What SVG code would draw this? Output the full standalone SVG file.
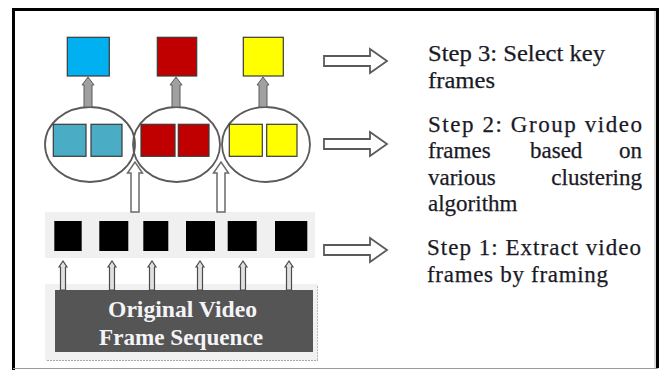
<svg xmlns="http://www.w3.org/2000/svg" width="662" height="370" viewBox="0 0 662 370">
<style>
.sq{stroke:#3a3a3a;stroke-width:1.2}
.cl{fill:none;stroke:#5a5a5a;stroke-width:1.8}
.blk{fill:#000}
.hol{fill:#fff;stroke:#5a5a5a;stroke-width:1.8;stroke-linejoin:miter}
.up{fill:#fff;stroke:#6a6a6a;stroke-width:1.5}
.gup{fill:#a0a0a0;stroke:#5a5a5a;stroke-width:1}
.sup{fill:#e0e0e0;stroke:#4a4a4a;stroke-width:1.2}
text{font-family:'Liberation Serif','Times New Roman',serif}
.st{font-size:23px;fill:#1a1a26;stroke:#1a1a26;stroke-width:0.25}
.ov{font-size:23px;font-weight:bold;fill:#f4f4f8}
</style>
<rect x="0" y="0" width="662" height="370" fill="#fff"/>
<g id="frame">
<path d="M13.5,370 V9.5 H657.5 V368" fill="none" stroke="#000" stroke-width="3"/>
<line x1="655" y1="11" x2="655" y2="368" stroke="#999" stroke-width="0.8"/>
<line x1="13" y1="368.5" x2="658" y2="368.5" stroke="#9a9a9a" stroke-width="1"/>
</g>
<g id="key-frames">
<rect class="sq" x="67.3" y="37.3" width="42" height="38.7" fill="#00b0f0"/>
<rect class="sq" x="157.3" y="37.3" width="39.4" height="38.7" fill="#c00000"/>
<rect class="sq" x="243.3" y="37.3" width="40" height="38.7" fill="#ffff00"/>
</g>
<g id="cluster-1">
<ellipse class="cl" cx="90" cy="144.5" rx="45" ry="37.5"/>
<rect class="sq" x="53.3" y="124.3" width="32.7" height="32" fill="#4bacc6"/>
<rect class="sq" x="91" y="124.3" width="31" height="32" fill="#4bacc6"/>
</g>
<g id="cluster-2">
<ellipse class="cl" cx="176.5" cy="144.5" rx="43.5" ry="37.5"/>
<rect class="sq" x="141" y="124.3" width="34" height="32" fill="#c00000"/>
<rect class="sq" x="178.3" y="124.3" width="30.7" height="32" fill="#c00000"/>
</g>
<g id="cluster-3">
<ellipse class="cl" cx="266" cy="144.5" rx="44" ry="37.5"/>
<rect class="sq" x="229.3" y="124.3" width="33" height="32" fill="#ffff00"/>
<rect class="sq" x="266.7" y="124.3" width="30.3" height="32" fill="#ffff00"/>
</g>
<g id="video-frames">
<rect x="45" y="212" width="270" height="46" fill="#f0f0f0"/>
<rect class="blk" x="54.3" y="221" width="27.4" height="30"/>
<rect class="blk" x="99.3" y="221" width="29" height="30"/>
<rect class="blk" x="143.3" y="221" width="25" height="30"/>
<rect class="blk" x="186" y="221" width="29" height="30"/>
<rect class="blk" x="227.7" y="221" width="29" height="30"/>
<rect class="blk" x="275" y="221" width="32.3" height="30"/>
</g>
<g id="original-sequence">
<rect x="45" y="284" width="273" height="77" fill="#f1f1f1"/>
<line x1="47" y1="360.5" x2="318" y2="360.5" stroke="#aaa" stroke-width="1.2" stroke-dasharray="2,1"/>
<line x1="317.5" y1="286" x2="317.5" y2="360" stroke="#bbb" stroke-width="1" stroke-dasharray="2,1"/>
<rect x="55" y="290" width="258" height="62" fill="#555"/>
<text class="ov" x="108" y="317" textLength="149" lengthAdjust="spacingAndGlyphs">Original Video</text>
<text class="ov" x="99" y="345" textLength="164" lengthAdjust="spacingAndGlyphs">Frame Sequence</text>
</g>
<g id="connectors">
<path class="gup" d="M84,107 V85 H82 L88,77 L94,85 H92 V107 Z"/>
<path class="gup" d="M172,107 V85 H170 L176,77 L182,85 H180 V107 Z"/>
<path class="gup" d="M259,107 V85 H257 L263,77 L269,85 H267 V107 Z"/>
<path class="up" d="M131,212 V173 H127.5 L135,162 L142.5,173 H139 V212 Z"/>
<path class="up" d="M217,212 V173 H213.5 L221,162 L228.5,173 H225 V212 Z"/>
<path class="sup" d="M60.5,290 V267 H59 L63,261 L67,267 H65.5 V290 Z"/>
<path class="sup" d="M109.5,290 V267 H108 L112,261 L116,267 H114.5 V290 Z"/>
<path class="sup" d="M149.5,290 V267 H148 L152,261 L156,267 H154.5 V290 Z"/>
<path class="sup" d="M197.5,290 V267 H196 L200,261 L204,267 H202.5 V290 Z"/>
<path class="sup" d="M240.5,290 V267 H239 L243,261 L247,267 H245.5 V290 Z"/>
<path class="sup" d="M286.5,290 V267 H285 L289,261 L293,267 H291.5 V290 Z"/>
<path class="hol" d="M324,56 H370 V49 L387,61 L370,73 V66 H324 Z"/>
<path class="hol" d="M324,139 H370 V132 L387,144 L370,156 V149 H324 Z"/>
<path class="hol" d="M324,245 H370 V238 L387,250 L370,262 V255 H324 Z"/>
</g>
<g id="step-3">
<text class="st" x="428" y="61" textLength="177" lengthAdjust="spacingAndGlyphs">Step 3: Select key</text>
<text class="st" x="428" y="88" textLength="67" lengthAdjust="spacingAndGlyphs">frames</text>
</g>
<g id="step-2">
<text class="st" x="428" y="132" textLength="214" lengthAdjust="spacing">Step 2: Group video</text>
<text class="st" x="428" y="158">frames</text>
<text class="st" x="530" y="158">based</text>
<text class="st" x="642" y="158" text-anchor="end">on</text>
<text class="st" x="428" y="185">various</text>
<text class="st" x="642" y="185" text-anchor="end">clustering</text>
<text class="st" x="428" y="211">algorithm</text>
</g>
<g id="step-1">
<text class="st" x="427" y="255" textLength="214" lengthAdjust="spacing">Step 1: Extract video</text>
<text class="st" x="427" y="282" textLength="181" lengthAdjust="spacing">frames by framing</text>
</g>
</svg>
